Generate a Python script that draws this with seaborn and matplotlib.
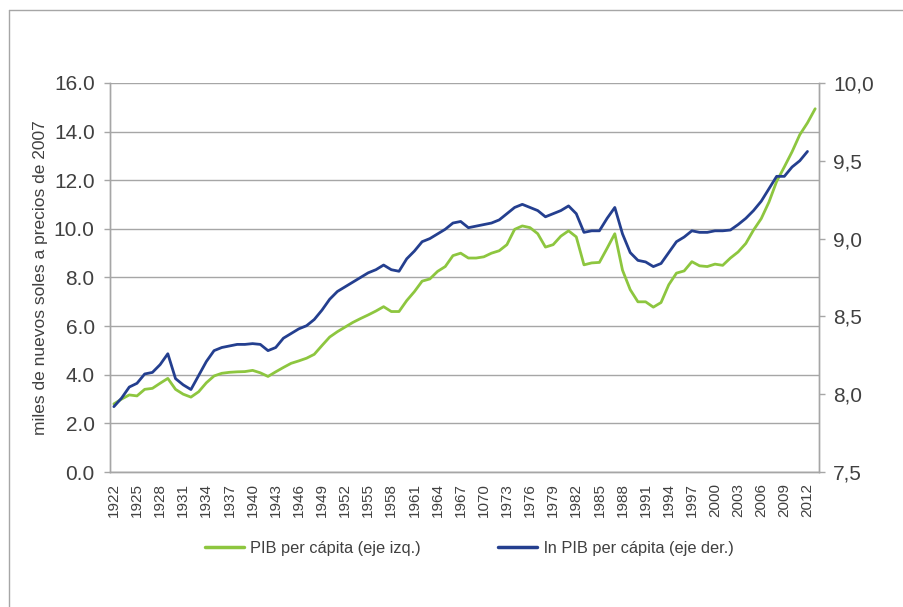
import numpy as np
import pandas as pd
import seaborn as sns
import matplotlib
matplotlib.use("Agg")
import matplotlib.pyplot as plt
from matplotlib.lines import Line2D
from matplotlib.ticker import FuncFormatter

# PIB per cápita (miles de nuevos soles a precios de 2007), 1922-2013
years_pib = list(range(1922, 2014))
pib_pc = [
    2.80, 3.00, 3.17, 3.13, 3.40, 3.44, 3.65, 3.85, 3.40, 3.20,
    3.08, 3.30, 3.67, 3.95, 4.06, 4.10, 4.12, 4.13, 4.18, 4.08,
    3.93, 4.12, 4.30, 4.47, 4.57, 4.68, 4.84, 5.20, 5.55, 5.77,
    5.96, 6.15, 6.31, 6.46, 6.62, 6.80, 6.60, 6.60, 7.05, 7.42,
    7.85, 7.94, 8.25, 8.45, 8.90, 9.00, 8.80, 8.80, 8.85, 9.00,
    9.10, 9.35, 9.98, 10.12, 10.05, 9.80, 9.25, 9.35, 9.70, 9.92,
    9.67, 8.52, 8.60, 8.62, 9.20, 9.80, 8.30, 7.50, 7.00, 7.00,
    6.78, 6.97, 7.70, 8.18, 8.27, 8.65, 8.48, 8.45, 8.55, 8.50,
    8.80, 9.05, 9.40, 9.95, 10.42, 11.10, 11.95, 12.55, 13.17, 13.87,
    14.36, 14.94,
]

# ln PIB per cápita, 1922-2012
years_ln = list(range(1922, 2013))
ln_pib_pc = [
    7.92, 7.975, 8.046, 8.07, 8.13, 8.14, 8.19, 8.26, 8.10, 8.06,
    8.03, 8.12, 8.21, 8.28, 8.30, 8.31, 8.32, 8.32, 8.325, 8.32,
    8.28, 8.30, 8.36, 8.39, 8.42, 8.44, 8.48, 8.54, 8.61, 8.66,
    8.69, 8.72, 8.75, 8.78, 8.80, 8.83, 8.80, 8.79, 8.87, 8.92,
    8.98, 9.00, 9.03, 9.06, 9.10, 9.11, 9.07, 9.08, 9.09, 9.10,
    9.12, 9.16, 9.20, 9.22, 9.20, 9.18, 9.14, 9.16, 9.18, 9.21,
    9.16, 9.04, 9.05, 9.05, 9.13, 9.20, 9.03, 8.91, 8.86, 8.85,
    8.82, 8.84, 8.91, 8.98, 9.01, 9.05, 9.04, 9.04, 9.05, 9.05,
    9.055, 9.09, 9.13, 9.18, 9.24, 9.32, 9.40, 9.40, 9.46, 9.50,
    9.56,
]

tick_years = list(range(1922, 2013, 3))
tick_labels = [str(y) for y in tick_years]
tick_labels[tick_labels.index("1970")] = "1070"  # as printed in the source

label_pib = "PIB per cápita (eje izq.)"
label_ln = "ln PIB per cápita (eje der.)"

green = "#8DC63F"
blue = "#243F8F"
grey = "#A6A6A6"
text_col = "#404040"

sns.set_style("white")
plt.rcParams["font.family"] = ["Liberation Sans", "DejaVu Sans"]

df_pib = pd.DataFrame({"year": years_pib, "value": pib_pc})
df_ln = pd.DataFrame({"year": years_ln, "value": ln_pib_pc})

fig = plt.figure(figsize=(9.04, 6.07), dpi=100)
ax = fig.add_axes([0.1217, 0.2224, 0.7843, 0.6409])
ax2 = ax.twinx()

sns.lineplot(data=df_pib, x="year", y="value", ax=ax, color=green, linewidth=2.0, legend=False)
sns.lineplot(data=df_ln, x="year", y="value", ax=ax2, color=blue, linewidth=2.0, legend=False)

ax.set_xlim(1921.5, 2013.5)
ax.set_ylim(0, 16)
ax.set_yticks(np.arange(0, 16.1, 2))
ax.yaxis.set_major_formatter(FuncFormatter(lambda v, p: f"{v:.1f}"))
ax2.set_ylim(7.5, 10.0)
ax2.set_yticks(np.arange(7.5, 10.01, 0.5))
ax2.yaxis.set_major_formatter(FuncFormatter(lambda v, p: f"{v:.1f}".replace(".", ",")))

ax.grid(axis="y", color=grey, linewidth=1.0)
ax.set_axisbelow(True)

ax.set_xticks(tick_years)
ax.set_xticklabels(tick_labels, rotation=90)
ax.tick_params(axis="x", length=0, pad=8, labelsize=11, labelcolor=text_col)
ax.tick_params(axis="y", length=4, width=1, color=grey, pad=7, labelsize=15, labelcolor=text_col, left=True)
ax2.tick_params(axis="y", length=4, width=1, color=grey, pad=6, labelsize=15, labelcolor=text_col, right=True)

for a in (ax, ax2):
    for side in ("left", "right", "bottom"):
        a.spines[side].set_visible(True)
        a.spines[side].set_color(grey)
        a.spines[side].set_linewidth(1.0)
    a.spines["top"].set_visible(False)

ax.set_xlabel("")
ax2.set_ylabel("")
ax.set_ylabel("miles de nuevos soles a precios de 2007", fontsize=12.5, color=text_col)
ax.yaxis.set_label_coords(-0.088, 0.5)

handles = [Line2D([0], [0], color=green, linewidth=2.5),
           Line2D([0], [0], color=blue, linewidth=2.5)]
leg = fig.legend(handles, [label_pib, label_ln], loc="center", bbox_to_anchor=(0.519, 0.097),
                 ncol=2, frameon=False, fontsize=11.8, handlelength=2.4, handletextpad=0.37,
                 columnspacing=4.7)
for t in leg.get_texts():
    t.set_color(text_col)

# outer frame (only top and left edges visible in the source)
fx, fy = 9 / 904, 1 - 10 / 607
fig.add_artist(Line2D([fx, fx], [0, fy], transform=fig.transFigure, color=grey, linewidth=1.0))
fig.add_artist(Line2D([fx, 1], [fy, fy], transform=fig.transFigure, color=grey, linewidth=1.0))

fig.savefig("out.png", dpi=100)
